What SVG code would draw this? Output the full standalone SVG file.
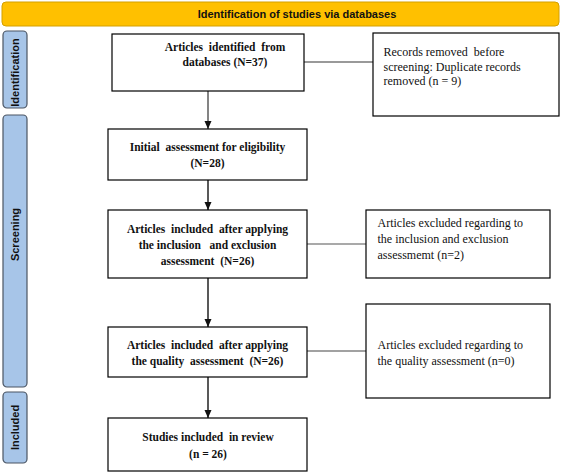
<svg xmlns="http://www.w3.org/2000/svg" width="561" height="472" viewBox="0 0 561 472">
<style>
.box{fill:#fff;stroke:#000;stroke-width:1.2}
.bar{fill:#A7C5E8;stroke:#4b5563;stroke-width:1.2}
.b{font-family:"Liberation Serif",serif;font-weight:bold;font-size:11.5px;fill:#111;text-anchor:middle;white-space:pre}
.r{font-family:"Liberation Serif",serif;font-size:12px;fill:#111;white-space:pre}
.lab{font-family:"Liberation Sans",Arial,sans-serif;font-weight:bold;font-size:11px;fill:#111;text-anchor:middle}
.arr{stroke:#222;stroke-width:1.5;fill:none;marker-end:url(#ah)}
</style>
<defs>
<marker id="ah" viewBox="0 0 8 8" refX="8" refY="4" markerWidth="8" markerHeight="8" markerUnits="userSpaceOnUse" orient="auto">
<path d="M0,0.5 L8,4 L0,7.5 Z" fill="#111"/>
</marker>
</defs>
<g id="banner">
<rect x="2" y="2" width="557" height="24" rx="4" fill="#FFC000" stroke="#D4A000" stroke-width="1"/>
<text class="lab" x="297" y="18">Identification of studies via databases</text>
</g>
<g id="phase-identification">
<rect class="bar" x="3" y="31" width="24" height="77" rx="4"/>
<text class="lab" transform="translate(18.5,72.5) rotate(-90)">Identification</text>
</g>
<g id="phase-screening">
<rect class="bar" x="3" y="115" width="24" height="272" rx="4"/>
<text class="lab" transform="translate(18.5,234.5) rotate(-90)">Screening</text>
</g>
<g id="phase-included">
<rect class="bar" x="3" y="392" width="24" height="71" rx="4"/>
<text class="lab" transform="translate(18.5,427.5) rotate(-90)">Included</text>
</g>
<g id="connectors">
<line x1="304" y1="62" x2="373" y2="62" stroke="#999" stroke-width="1.8"/>
<line x1="307" y1="244" x2="366" y2="244" stroke="#555" stroke-width="1.2"/>
<line x1="307" y1="351" x2="366" y2="351" stroke="#444" stroke-width="1.2"/>
<line x1="208" y1="91" x2="208" y2="129" stroke="#777" stroke-width="1.8" marker-end="url(#ah)"/>
<line class="arr" x1="208" y1="180" x2="208" y2="210"/>
<line class="arr" x1="208" y1="278" x2="208" y2="327"/>
<line class="arr" x1="208" y1="377" x2="208" y2="418"/>
</g>
<g id="n1">
<rect class="box" x="112" y="34" width="192" height="57"/>
<text class="b" x="225" y="51">Articles  identified  from</text>
<text class="b" x="225" y="66">databases (N=37)</text>
</g>
<g id="n2">
<rect class="box" x="373" y="33" width="186" height="83"/>
<text class="r" x="383.5" y="56">Records removed  before</text>
<text class="r" x="383.5" y="71">screening: Duplicate records</text>
<text class="r" x="383.5" y="85">removed (n = 9)</text>
</g>
<g id="n3">
<rect class="box" x="108" y="129" width="199" height="51"/>
<text class="b" x="207.5" y="151">Initial  assessment for eligibility</text>
<text class="b" x="207.5" y="167">(N=28)</text>
</g>
<g id="n4">
<rect class="box" x="108" y="210" width="199" height="68"/>
<text class="b" x="207.5" y="233">Articles  included  after applying</text>
<text class="b" x="207.5" y="249">the inclusion   and exclusion</text>
<text class="b" x="207.5" y="265">assessment  (N=26)</text>
</g>
<g id="n5">
<rect class="box" x="366" y="210" width="184" height="68"/>
<text class="r" x="377.5" y="227">Articles excluded regarding to</text>
<text class="r" x="377.5" y="243">the inclusion and exclusion</text>
<text class="r" x="377.5" y="259">assessmemt (n=2)</text>
</g>
<g id="n6">
<rect class="box" x="108" y="327" width="199" height="50"/>
<text class="b" x="207.5" y="349">Articles  included  after applying</text>
<text class="b" x="207.5" y="365">the quality  assessment  (N=26)</text>
</g>
<g id="n7">
<rect class="box" x="366" y="304" width="184" height="94"/>
<text class="r" x="377.5" y="349">Articles excluded regarding to</text>
<text class="r" x="377.5" y="365">the quality assessment (n=0)</text>
</g>
<g id="n8">
<rect class="box" x="108" y="418" width="199" height="53"/>
<text class="b" x="208" y="441">Studies included  in review</text>
<text class="b" x="208" y="458">(n = 26)</text>
</g>
</svg>
